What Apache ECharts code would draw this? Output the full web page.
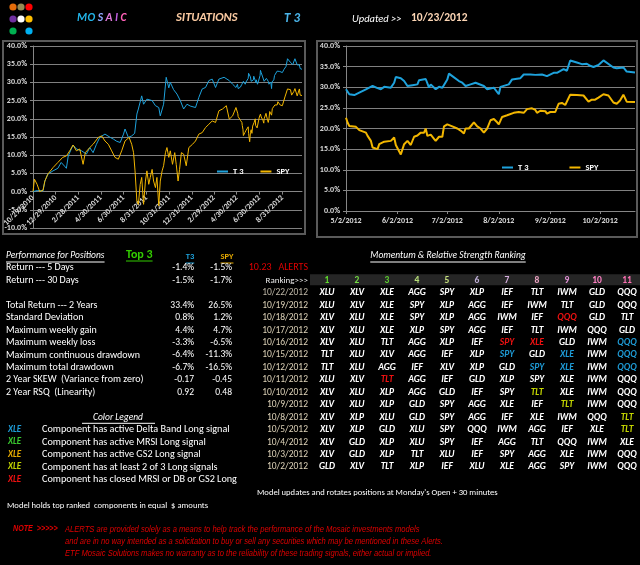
<!DOCTYPE html>
<html><head><meta charset="utf-8">
<script src="https://cdn.jsdelivr.net/npm/echarts@6/dist/echarts.min.js"></script>
<style>html,body{margin:0;padding:0;background:#000;}#c{width:640px;height:565px;}</style>
</head><body><div id="c"></div>
<script>
// ---------------- DATA ----------------
const seriesNames = ['T 3', 'SPY'];
const leftRange = ['2010-10-29', '2012-10-23'];
const rightRange = ['2012-05-02', '2012-10-23'];
const leftTickDates = ['2010-10-29','2010-12-29','2011-02-28','2011-04-30','2011-06-30','2011-08-31','2011-10-31','2011-12-31','2012-02-29','2012-04-30','2012-06-30','2012-08-31'];
const rightTickDates = ['2012-05-02','2012-06-02','2012-07-02','2012-08-02','2012-09-02','2012-10-02'];

const t3Hist = [['2010-10-29',0],['2010-11-10',0.3],['2010-11-25',0.2],['2010-11-30',2.9],['2010-12-08',4.8],['2010-12-22',5.7],['2011-01-04',6.4],['2011-01-13',8.0],['2011-01-22',7.0],['2011-01-27',6.4],['2011-02-01',9.8],['2011-02-14',12.8],['2011-02-23',11.7],['2011-03-09',11.2],['2011-03-22',10.3],['2011-03-31',12.1],['2011-04-09',10.7],['2011-04-18',13.0],['2011-04-27',14.9],['2011-05-11',15.8],['2011-05-25',14.9],['2011-06-03',14.4],['2011-06-12',13.8],['2011-06-21',13.5],['2011-06-30',15.8],['2011-07-04',17.2],['2011-07-13',14.9],['2011-07-22',15.3],['2011-07-30',16.0],['2011-08-05',21.3],['2011-08-09',22.7],['2011-08-18',26.3],['2011-08-23',24.0],['2011-09-01',25.4],['2011-09-15',25.0],['2011-09-24',23.6],['2011-10-03',23.1],['2011-10-07',20.8],['2011-10-16',24.0],['2011-10-23',31.4],['2011-10-30',28.5],['2011-11-03',30.0],['2011-11-12',28.0],['2011-11-21',26.8],['2011-11-30',25.0],['2011-12-09',22.7],['2011-12-18',24.0],['2011-12-27',23.5],['2012-01-10',23.1],['2012-01-19',25.9],['2012-01-28',28.2],['2012-02-06',28.6],['2012-02-15',30.5],['2012-02-24',30.9],['2012-03-04',28.6],['2012-03-13',30.9],['2012-03-27',31.4],['2012-04-10',30.5],['2012-04-19',29.5],['2012-04-28',28.6]];

const spyHist = [['2010-10-29',0],['2010-11-02',3.4],['2010-11-09',2.0],['2010-11-16',0.0],['2010-11-25',0.4],['2010-11-30',2.9],['2010-12-08',4.8],['2010-12-22',6.6],['2011-01-04',8.0],['2011-01-17',9.4],['2011-01-27',9.8],['2011-02-05',11.2],['2011-02-14',12.8],['2011-02-23',11.2],['2011-03-04',11.7],['2011-03-13',7.5],['2011-03-19',10.7],['2011-03-31',12.1],['2011-04-09',13.0],['2011-04-23',14.9],['2011-05-02',15.3],['2011-05-11',13.9],['2011-05-20',13.0],['2011-05-29',11.2],['2011-06-07',9.4],['2011-06-16',8.9],['2011-06-25',11.2],['2011-07-04',13.9],['2011-07-15',14.9],['2011-07-22',13.0],['2011-07-27',10.7],['2011-07-31',5.7],['2011-08-05',-2.6],['2011-08-09',-3.5],['2011-08-14',2.0],['2011-08-18',3.9],['2011-08-23',-3.5],['2011-08-28',2.9],['2011-09-01',5.7],['2011-09-06',2.0],['2011-09-10',3.9],['2011-09-15',6.1],['2011-09-19',2.9],['2011-09-24',1.1],['2011-09-28',3.9],['2011-10-03',-3.9],['2011-10-07',2.9],['2011-10-12',5.7],['2011-10-16',7.1],['2011-10-21',10.7],['2011-10-25',12.1],['2011-10-30',9.4],['2011-11-03',11.2],['2011-11-09',7.5],['2011-11-15',10.7],['2011-11-19',7.5],['2011-11-24',2.9],['2011-11-28',6.1],['2011-12-03',10.7],['2011-12-09',10.3],['2011-12-16',7.1],['2011-12-23',12.1],['2012-01-02',13.0],['2012-01-10',13.9],['2012-01-19',15.8],['2012-01-28',16.2],['2012-02-06',17.6],['2012-02-15',18.5],['2012-02-24',19.4],['2012-03-04',19.0],['2012-03-13',22.2],['2012-03-23',22.7],['2012-04-02',23.6],['2012-04-10',19.9],['2012-04-19',20.8],['2012-04-28',23.1]];

const t3Recent = [['2012-05-02',29.5],['2012-05-04',28.3],['2012-05-07',28.1],['2012-05-10',28.7],['2012-05-14',29.5],['2012-05-16',29.9],['2012-05-18',30.3],['2012-05-21',29.8],['2012-05-23',29.5],['2012-05-25',30.1],['2012-05-29',29.9],['2012-05-31',31.1],['2012-06-01',32.5],['2012-06-04',32.2],['2012-06-06',31.5],['2012-06-08',30.3],['2012-06-11',30.5],['2012-06-14',30.7],['2012-06-15',31.7],['2012-06-19',32.0],['2012-06-21',29.9],['2012-06-22',30.7],['2012-06-25',29.5],['2012-06-27',30.1],['2012-06-29',29.9],['2012-07-02',31.9],['2012-07-03',33.3],['2012-07-05',32.7],['2012-07-09',31.5],['2012-07-11',31.1],['2012-07-13',30.3],['2012-07-16',30.7],['2012-07-19',31.1],['2012-07-20',31.5],['2012-07-24',30.3],['2012-07-26',29.5],['2012-07-30',29.9],['2012-07-31',30.1],['2012-08-02',28.3],['2012-08-03',30.1],['2012-08-08',30.7],['2012-08-10',31.9],['2012-08-15',32.2],['2012-08-17',33.1],['2012-08-21',33.1],['2012-08-24',33.0],['2012-08-28',33.1],['2012-08-31',32.7],['2012-09-04',33.5],['2012-09-06',33.5],['2012-09-10',34.4],['2012-09-12',34.0],['2012-09-14',36.5],['2012-09-18',36.0],['2012-09-21',35.6],['2012-09-24',35.7],['2012-09-26',35.2],['2012-09-28',34.9],['2012-10-01',35.4],['2012-10-04',36.5],['2012-10-05',36.2],['2012-10-10',34.8],['2012-10-12',34.6],['2012-10-16',34.8],['2012-10-18',33.8],['2012-10-19',33.8],['2012-10-23',33.6]];

const spyRecent = [['2012-05-02',22.6],['2012-05-03',21.4],['2012-05-04',20.6],['2012-05-08',20.4],['2012-05-10',19.6],['2012-05-14',19.0],['2012-05-15',18.2],['2012-05-17',17.0],['2012-05-18',15.4],['2012-05-21',15.0],['2012-05-22',16.2],['2012-05-25',16.8],['2012-05-29',17.0],['2012-05-31',17.8],['2012-06-01',16.0],['2012-06-04',13.7],['2012-06-05',13.7],['2012-06-06',16.2],['2012-06-08',17.0],['2012-06-10',16.0],['2012-06-12',18.0],['2012-06-14',18.3],['2012-06-16',19.0],['2012-06-18',19.0],['2012-06-19',20.0],['2012-06-20',18.2],['2012-06-22',18.5],['2012-06-24',17.5],['2012-06-25',17.0],['2012-06-27',18.0],['2012-06-29',18.0],['2012-06-30',20.5],['2012-07-02',21.0],['2012-07-03',21.3],['2012-07-05',20.5],['2012-07-08',20.0],['2012-07-10',19.5],['2012-07-12',18.8],['2012-07-13',20.0],['2012-07-15',20.0],['2012-07-18',21.5],['2012-07-20',20.5],['2012-07-22',20.0],['2012-07-24',19.0],['2012-07-25',18.8],['2012-07-26',20.0],['2012-07-28',22.0],['2012-07-30',22.3],['2012-08-01',21.5],['2012-08-02',21.0],['2012-08-04',22.8],['2012-08-07',23.2],['2012-08-11',23.8],['2012-08-14',24.0],['2012-08-17',23.8],['2012-08-19',24.7],['2012-08-22',24.9],['2012-08-24',24.5],['2012-08-25',23.8],['2012-08-27',24.3],['2012-08-30',24.2],['2012-08-31',23.6],['2012-09-02',24.0],['2012-09-05',24.0],['2012-09-07',26.0],['2012-09-09',26.2],['2012-09-11',25.7],['2012-09-12',26.0],['2012-09-14',28.2],['2012-09-18',28.1],['2012-09-22',28.0],['2012-09-23',27.7],['2012-09-25',26.5],['2012-09-27',27.0],['2012-09-29',27.0],['2012-10-01',27.5],['2012-10-04',28.3],['2012-10-07',28.0],['2012-10-10',26.3],['2012-10-12',26.0],['2012-10-14',26.8],['2012-10-16',28.2],['2012-10-18',26.5],['2012-10-23',26.4]];

const perfLabels = ['Return --- 5 Days','Return --- 30 Days','','Total Return --- 2 Years','Standard Deviation','Maximum weekly gain','Maximum weekly loss','Maximum continuous drawdown','Maximum total drawdown','2 Year SKEW  (Variance from zero)','2 Year RSQ  (Linearity)'];
const perfT3 = ['-1.4%','-1.5%','','33.4%','0.8%','4.4%','-3.3%','-6.4%','-6.7%','-0.17','0.92'];
const perfSPY = ['-1.5%','-1.7%','','26.5%','1.2%','4.7%','-6.5%','-11.3%','-16.5%','-0.45','0.48'];

const rankNumbers = ['1','2','3','4','5','6','7','8','9','10','11'];
const rankDates = ['10/22/2012','10/19/2012','10/18/2012','10/17/2012','10/16/2012','10/15/2012','10/12/2012','10/11/2012','10/10/2012','10/9/2012','10/8/2012','10/5/2012','10/4/2012','10/3/2012','10/2/2012'];
const rankRows = [
 'XLU XLV XLE AGG SPY XLP IEF TLT IWM GLD QQQ',
 'XLU XLV XLE SPY XLP AGG IEF IWM TLT GLD QQQ',
 'XLV XLU XLE SPY XLP AGG IWM IEF QQQ GLD TLT',
 'XLV XLU XLE XLP SPY AGG IEF TLT IWM QQQ GLD',
 'XLV XLU TLT AGG XLP IEF SPY XLE GLD IWM QQQ',
 'TLT XLU XLV AGG IEF XLP SPY GLD XLE IWM QQQ',
 'TLT XLU AGG IEF XLV XLP GLD SPY XLE IWM QQQ',
 'XLU XLV TLT AGG IEF GLD XLP SPY XLE IWM QQQ',
 'XLV XLU XLP AGG GLD IEF SPY TLT XLE IWM QQQ',
 'XLV XLU XLP GLD SPY AGG XLE IEF TLT IWM QQQ',
 'XLV XLP XLU GLD SPY AGG IEF XLE IWM QQQ TLT',
 'XLV XLP GLD XLU SPY QQQ IWM AGG IEF XLE TLT',
 'XLV GLD XLP XLU SPY IEF AGG TLT QQQ IWM XLE',
 'XLV GLD XLP TLT XLU IEF SPY AGG XLE IWM QQQ',
 'GLD XLV TLT XLP IEF XLU XLE AGG SPY IWM QQQ'
];
const rankSignals = [['10/18/2012','QQQ','closed'],['10/16/2012','SPY','closed'],['10/16/2012','XLE','closed'],['10/16/2012','QQQ','delta'],['10/15/2012','SPY','delta'],['10/15/2012','XLE','delta'],['10/15/2012','QQQ','delta'],['10/12/2012','SPY','delta'],['10/12/2012','XLE','delta'],['10/12/2012','QQQ','delta'],['10/11/2012','TLT','closed'],['10/10/2012','TLT','two'],['10/9/2012','TLT','two'],['10/8/2012','TLT','two'],['10/5/2012','TLT','two']];
const legendSignals = ['delta','mrsi','gs2','two','closed'];
const legendTexts = ['Component has active Delta Band Long signal','Component has active MRSI Long signal','Component has active GS2 Long signal','Component has at least 2 of 3 Long signals','Component has closed MRSI or DB or GS2 Long'];
const legendTicker = 'XLE';
const noteLines = ['ALERTS are provided solely as a means to help track the performance of the Mosaic investments models','and are in no way intended as a solicitation to buy or sell any securities which may be mentioned in these Alerts.','ETF Mosaic Solutions makes no warranty as to the reliability of these trading signals, either actual or implied.'];

// ---------------- STYLE ----------------
const FF = "Carlito, Lato, 'Liberation Sans', sans-serif";
const NF = "'Liberation Sans', Arial, sans-serif";
const T3C = '#1ea2dc', SPYC = '#f2b600';
const sigColor = {delta:'#1e9bd6', mrsi:'#39c82e', gs2:'#e8ac00', two:'#c2d400', closed:'#ee1111'};
const numColors = ['#5fdc2c','#74dc44','#5ccc30','#b8e07a','#c6e07e','#c0b0d8','#d8b0e0','#eea4c4','#e090d4','#ff80c4','#ff70b4'];
const dotColors = [['#e46c0a','#948a54','#ff0000'],['#7030a0','#ffffff','#ffc000'],['#00b050',null,'#00b0f0']];
const mosaicColors = ['#22b4e8','#22b4e8','#8fa8ff','#e07ad8','#c060e0','#ff60b8'];

const ts = s => { const p = s.split('-').map(Number); return new Date(p[0], p[1]-1, p[2]).getTime(); };
const fmtDate = v => { const d = new Date(v); return (d.getMonth()+1) + '/' + d.getDate() + '/' + d.getFullYear(); };
const toPts = arr => arr.map(p => [ts(p[0]), p[1]]);

const mctx = document.createElement('canvas').getContext('2d');
const tw = (t, f) => { mctx.font = f; return mctx.measureText(t).width; };
const font = (size, weight, style, fam) => (style || 'normal') + ' ' + (weight || 'normal') + ' ' + size + 'px ' + (fam || FF);

const els = [];
function txt(x, y, text, fill, f, align, sx) {
  els.push({type:'text', x:x, y:y, scaleX:sx || 1, silent:true, style:{text:text, fill:fill, font:f, textAlign:align || 'left', textVerticalAlign:'middle'}});
}
function uline(x1, x2, y, color) {
  els.push({type:'line', silent:true, shape:{x1:x1, y1:y, x2:x2, y2:y}, style:{stroke:color, lineWidth:1}});
}
function txtU(x, y, text, fill, f, align, ucolor) {
  txt(x, y, text, fill, f, align);
  const w = tw(text, f);
  let x1 = x; if (align === 'center') x1 = x - w/2; else if (align === 'right') x1 = x - w;
  uline(x1, x1 + w, y + 6, ucolor || fill);
}

// ---------------- HEADER ----------------
dotColors.forEach((row, r) => row.forEach((c, k) => {
  if (c) els.push({type:'circle', silent:true, shape:{cx:13 + k*8, cy:7 + r*12, r:3.6}, style:{fill:c}});
}));
{
  const f = font(11.5, 'bold', 'italic');
  let x = 77;
  'MOSAIC'.split('').forEach((ch, i) => { txt(x, 18, ch, mosaicColors[i], f); x += tw(ch, f) + (i === 0 ? 0.5 : 2.5); });
}
txt(176, 18, 'SITUATIONS', '#f8c8a0', font(12.5, 'bold', 'italic'));
txt(284, 19, 'T 3', '#4ab4e8', font(13, 'bold', 'italic'));
txt(352, 19, 'Updated >>', '#ffffff', font(10.5, 'normal', 'italic'));
txt(411, 18, '10/23/2012', '#fcd5b4', font(11.5, 'bold'));

// frames
els.push({type:'rect', silent:true, shape:{x:3, y:41, width:302, height:193}, style:{fill:'none', stroke:'#5a5a5a', lineWidth:2}});
els.push({type:'rect', silent:true, shape:{x:317, y:41, width:320, height:196}, style:{fill:'none', stroke:'#5a5a5a', lineWidth:2}});

// ---------------- PERFORMANCE TABLE ----------------
const rowY0 = 292.8, rowH = 12.45;
const rowY = k => rowY0 + (k - 2) * rowH;
txtU(6, 256, 'Performance for Positions', '#ffffff', font(9.5, 'normal', 'italic'), 'left');
txtU(126, 255, 'Top 3', '#33cc00', font(12, 'bold'), 'left');
txtU(190, 257, 'T3', T3C, font(8.5, 'bold'), 'center');
txtU(227, 257, 'SPY', '#e6aa00', font(8.5, 'bold'), 'center');
const labF = font(10), valF = font(9.5);
perfLabels.forEach((l, k) => {
  if (!l) return;
  txt(6, rowY(k), l, '#ffffff', labF);
  txt(194, rowY(k), perfT3[k], '#ffffff', valF, 'right');
  txt(232, rowY(k), perfSPY[k], '#ffffff', valF, 'right');
});
txt(308, rowY(0), '10.23   ALERTS', '#e00000', font(10), 'right');

// ---------------- RANKING TABLE ----------------
txtU(448, 256, 'Momentum & Relative Strength Ranking', '#ffffff', font(9.5, 'normal', 'italic'), 'center');
els.push({type:'rect', silent:true, shape:{x:310, y:rowY(1) - 6, width:330, height:11}, style:{fill:'#262626'}});
txt(308, rowY(1), 'Ranking>>>', '#e8e8e8', font(9), 'right');
const colX = c => 327 + c * 30;
rankNumbers.forEach((n, c) => txt(colX(c), rowY(1), n, numColors[c], font(9.5, 'bold'), 'center'));
const tickF = font(9.5, '600', 'italic');
rankDates.forEach((d, j) => {
  const y = rowY(j + 2);
  txt(308, y, d, j === 0 ? '#bdb6a6' : '#ddd2b8', valF, 'right');
  rankRows[j].split(' ').forEach((t, c) => {
    const s = rankSignals.find(r => r[0] === d && r[1] === t);
    txt(colX(c), y, t, s ? sigColor[s[2]] : '#ffffff', tickF, 'center');
  });
});

// ---------------- COLOR LEGEND ----------------
txt(118, rowY(12), 'Color Legend', '#ffffff', font(9.5, 'normal', 'italic'), 'center');
uline(82, 155, rowY(12) + 6, '#ffffff');
legendSignals.forEach((s, i) => {
  const y = rowY(13 + i);
  txt(8, y, legendTicker, sigColor[s], font(9, 'bold', 'italic'));
  txt(42, y, legendTexts[i], '#ffffff', font(10.2));
});
txt(257, 493, "Model updates and rotates positions at Monday's Open + 30 minutes", '#ffffff', font(8.6));
txt(7, 506, 'Model holds top ranked  components in equal  $ amounts', '#ffffff', font(8.6));
txt(13, 529, 'NOTE  >>>>>', '#e00000', font(8.5, 'bold', 'italic', NF), 'left', 0.84);
noteLines.forEach((l, i) => txt(65, 529 + i * 12, l, '#e00000', font(9, 'normal', 'italic', NF), 'left', 0.845));

// ---------------- CHART ----------------
const axisTxt = {color:'#d9d9d9', fontSize:8, fontWeight:'bold', fontFamily:FF};
const gridLine = {lineStyle:{color:'#808080', width:1}};
const leftGrid = {left:33, top:46, right:338, bottom:337};
const leftYMin = -10, leftYMax = 40;
const leftPlotH = 565 - leftGrid.top - leftGrid.bottom;
const zeroOffset = -leftPlotH * (0 - leftYMin) / (leftYMax - leftYMin);
const chart = echarts.init(document.getElementById('c'));
chart.setOption({
  backgroundColor:'#000',
  animation:false,
  grid:[leftGrid, {left:346, top:46, right:5, bottom:354}],
  xAxis:[
    {type:'value', gridIndex:0, min:ts(leftRange[0]), max:ts(leftRange[1]), offset:zeroOffset,
     axisLine:{onZero:false, lineStyle:{color:'#868686'}},
     axisTick:{show:true, customValues:leftTickDates.map(ts), length:3, lineStyle:{color:'#868686'}},
     axisLabel:Object.assign({customValues:leftTickDates.map(ts), rotate:45, margin:5, formatter:fmtDate, hideOverlap:false}, axisTxt),
     splitLine:{show:false}},
    {type:'value', gridIndex:1, min:ts(rightRange[0]), max:ts(rightRange[1]),
     axisLine:{onZero:false, lineStyle:{color:'#868686'}},
     axisTick:{show:true, customValues:rightTickDates.map(ts), length:3, lineStyle:{color:'#868686'}},
     axisLabel:Object.assign({customValues:rightTickDates.map(ts), margin:6, formatter:fmtDate, hideOverlap:false}, axisTxt),
     splitLine:{show:false}}
  ],
  yAxis:[
    {type:'value', gridIndex:0, min:leftYMin, max:leftYMax, interval:5,
     axisLine:{show:true, onZero:false, lineStyle:{color:'#868686'}}, axisTick:{show:true, length:3, lineStyle:{color:'#868686'}},
     splitLine:gridLine, axisLabel:Object.assign({margin:6, formatter:v => v.toFixed(1) + '%'}, axisTxt)},
    {type:'value', gridIndex:1, min:0, max:40, interval:5,
     axisLine:{show:true, onZero:false, lineStyle:{color:'#868686'}}, axisTick:{show:true, length:3, lineStyle:{color:'#868686'}},
     splitLine:gridLine, axisLabel:Object.assign({margin:6, formatter:v => v.toFixed(1) + '%'}, axisTxt)}
  ],
  legend:[
    {left:212, top:162, data:seriesNames, icon:'rect', itemWidth:11, itemHeight:2, itemGap:17, selectedMode:false,
     textStyle:{color:'#ffffff', fontSize:8.5, fontWeight:'bold', fontFamily:FF}},
    {left:497, top:158, data:seriesNames, icon:'rect', itemWidth:11, itemHeight:2, itemGap:41, selectedMode:false,
     textStyle:{color:'#ffffff', fontSize:8.5, fontWeight:'bold', fontFamily:FF}}
  ],
  series:[
    {name:seriesNames[0], type:'line', xAxisIndex:0, yAxisIndex:0, data:toPts(t3Hist.concat(t3Recent)), showSymbol:false, lineStyle:{width:1, color:T3C}, itemStyle:{color:T3C}},
    {name:seriesNames[1], type:'line', xAxisIndex:0, yAxisIndex:0, data:toPts(spyHist.concat(spyRecent)), showSymbol:false, lineStyle:{width:1, color:SPYC}, itemStyle:{color:SPYC}},
    {name:seriesNames[0], type:'line', xAxisIndex:1, yAxisIndex:1, data:toPts(t3Recent), showSymbol:false, lineStyle:{width:2, color:T3C}, itemStyle:{color:T3C}},
    {name:seriesNames[1], type:'line', xAxisIndex:1, yAxisIndex:1, data:toPts(spyRecent), showSymbol:false, lineStyle:{width:2, color:SPYC}, itemStyle:{color:SPYC}}
  ],
  graphic:{elements:els}
});
</script>
</body></html>
